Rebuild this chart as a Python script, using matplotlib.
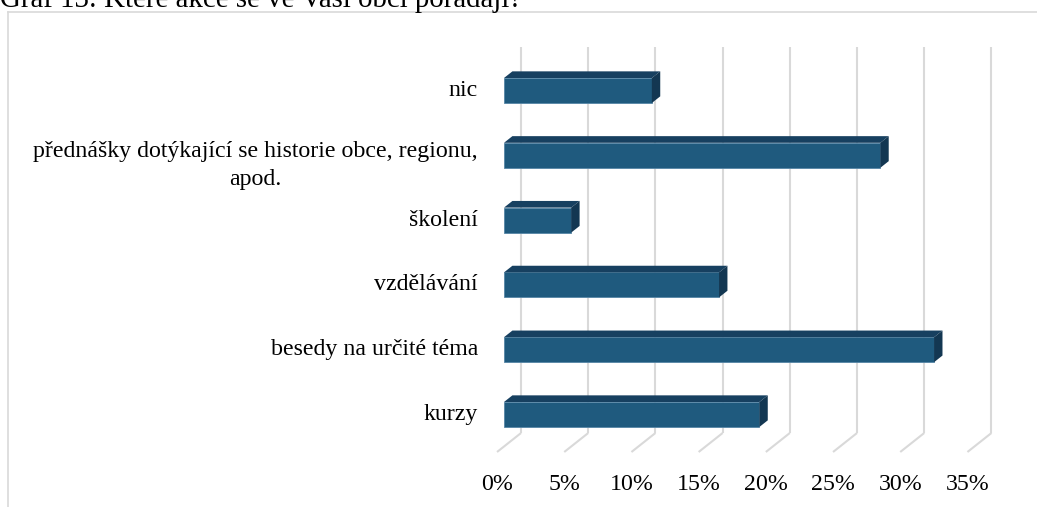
import matplotlib
matplotlib.use("Agg")
import matplotlib.pyplot as plt
from matplotlib.lines import Line2D

# ---- data ----
categories = ["kurzy", "besedy na určité téma", "vzdělávání", "školení",
              "přednášky dotýkající se historie obce, regionu,\napod.", "nic"]
values = [19, 32, 16, 5, 28, 11]
xticks = [0, 5, 10, 15, 20, 25, 30, 35]
xtick_labels = ["0%", "5%", "10%", "15%", "20%", "25%", "30%", "35%"]
title = "Graf 13: Které akce se ve Vaší obci pořádají?"

# ---- style ----
plt.rcParams["font.family"] = ["Liberation Serif", "DejaVu Serif"]
FS = 17.2
front_col = "#1f5a7e"
top_col = "#174060"
side_col = "#133752"
edge_col = "#5585a6"
grid_col = "#d9d9d9"

W, H = 1037, 507
fig = plt.figure(figsize=(W / 100, H / 100), dpi=100)
ax = fig.add_axes([0, 0, 1, 1])
ax.axis("off")

px_per_pct = 13.44
px_per_cat = 64.8
x0_px = 504.0
y0_px = 414.5
ax.set_xlim(-x0_px / px_per_pct, (W - x0_px) / px_per_pct)
ax.set_ylim((y0_px - H) / px_per_cat, y0_px / px_per_cat)

# 3D geometry (data units)
depth_x = 24 / px_per_pct
depth_y = 19 / px_per_cat
f_front, f_back = 0.29, 0.64
back_dx, back_dy = (1 - f_front) * depth_x, (1 - f_front) * depth_y
front_dx, front_dy = -f_front * depth_x, -f_front * depth_y
bar_dx, bar_dy = (f_back - f_front) * depth_x, (f_back - f_front) * depth_y
bar_h = 25 / px_per_cat
floor_y = (y0_px - 433) / px_per_cat
grid_top = (y0_px - 47) / px_per_cat

# gridlines: back wall verticals + floor diagonals
for t in xticks:
    xb = t + back_dx
    ax.plot([xb, xb], [floor_y, grid_top], color=grid_col, lw=1.5, zorder=1,
            solid_capstyle="butt")
    ax.plot([xb, t + front_dx], [floor_y, floor_y - depth_y], color=grid_col,
            lw=1.5, zorder=1, solid_capstyle="butt")

ypos = list(range(len(categories)))
# bars
ax.barh(ypos, values, height=bar_h, left=0, color=front_col,
        edgecolor=edge_col, linewidth=0.6, zorder=3)
for y, v in zip(ypos, values):
    yt = y + bar_h / 2
    yb = y - bar_h / 2
    ax.fill([0, v, v + bar_dx, bar_dx], [yt, yt, yt + bar_dy, yt + bar_dy],
            color=top_col, zorder=3, lw=0)
    ax.fill([v, v + bar_dx, v + bar_dx, v], [yb, yb + bar_dy, yt + bar_dy, yt],
            color=side_col, zorder=3, lw=0)

# category labels
for y, c in zip(ypos, categories):
    multi = "\n" in c
    yy = y - (10 / px_per_cat if multi else 0)
    ax.text(-26 / px_per_pct, yy, c, ha="right", va="center", fontsize=FS,
            multialignment="center", color="#000000", linespacing=1.45)

# x tick labels
lab_y = (y0_px - 484) / px_per_cat
for t, l in zip(xticks, xtick_labels):
    ax.text(t + front_dx, lab_y, l, ha="center", va="center", fontsize=FS,
            color="#000000")

# chart frame (partially visible)
fig.add_artist(Line2D([8 / W, 1], [1 - 12 / H, 1 - 12 / H], color=grid_col,
                      lw=1.2, transform=fig.transFigure))
fig.add_artist(Line2D([8 / W, 8 / W], [0, 1 - 12 / H], color=grid_col,
                      lw=1.2, transform=fig.transFigure))

# title (cut at top)
fig.text(0.0, 1 - 7 / H, title, ha="left", va="baseline", fontsize=20.8,
         color="#000000")

fig.savefig("out.png", dpi=100)
